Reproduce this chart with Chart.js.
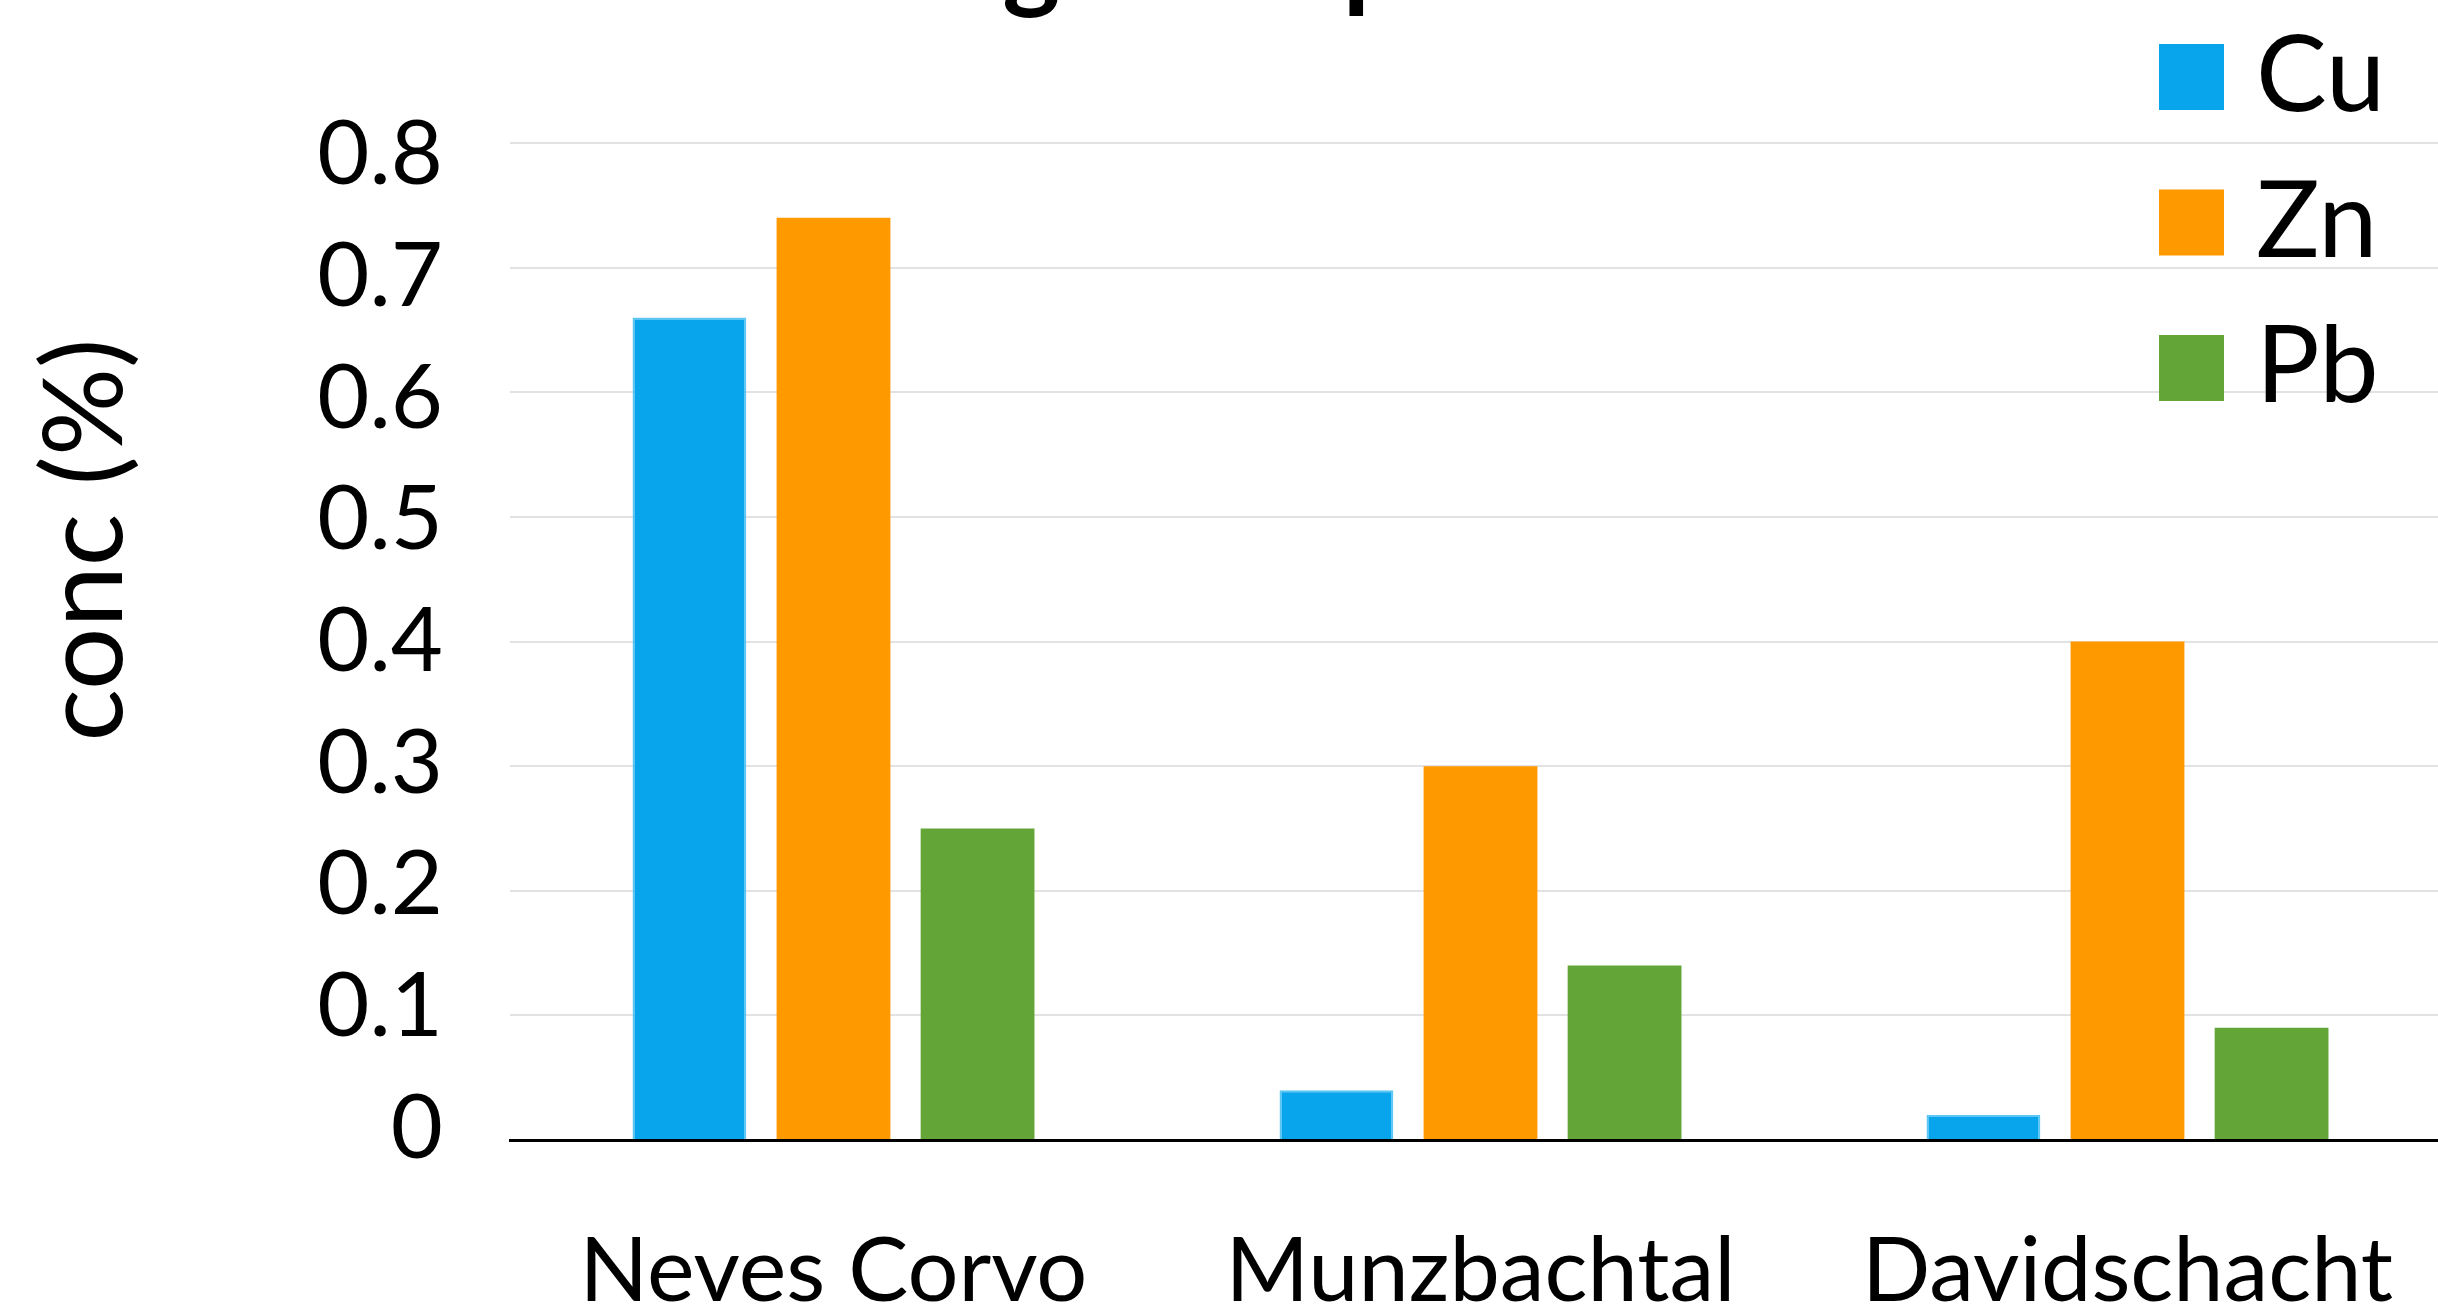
<!DOCTYPE html>
<html>
<head>
<meta charset="utf-8">
<title>Tailings composition</title>
<script src="https://cdn.jsdelivr.net/npm/chart.js@4.4.1/dist/chart.umd.min.js"></script>
<style>
  html, body { margin: 0; padding: 0; background: #fff; overflow: hidden; }
  #wrap { width: 2460px; height: 1312px; }
</style>
</head>
<body>
<div id="wrap"><canvas id="chart" width="2460" height="1312"></canvas></div>
<script>
// -----------------------------
// Data
// -----------------------------
const chartTitle = "Tailings composition";
const yAxisTitle = "conc (%)";
const sites = ["Neves Corvo", "Munzbachtal", "Davidschacht"];
const seriesNames = ["Cu", "Zn", "Pb"];
const cuValues = [0.66, 0.04, 0.02];
const znValues = [0.74, 0.30, 0.40];
const pbValues = [0.25, 0.14, 0.09];
const yTickValues = [0, 0.1, 0.2, 0.3, 0.4, 0.5, 0.6, 0.7, 0.8];
const yTickLabels = ["0", "0.1", "0.2", "0.3", "0.4", "0.5", "0.6", "0.7", "0.8"];

const colors = ["#09A5EC", "#FF9900", "#64A537"];
const FONT = "Lato, 'Open Sans', sans-serif";

// title, rotated y title and legend drawn by hand (they sit outside the normal layout)
const extrasPlugin = {
  id: "extras",
  afterDraw(chart) {
    const ctx = chart.ctx;
    ctx.save();
    ctx.fillStyle = "#000";

    // title: mostly above the top edge, only descenders show
    ctx.font = "bold 110px " + FONT;
    ctx.textAlign = "center";
    ctx.textBaseline = "alphabetic";
    ctx.fillText(chartTitle, 1244, -2);

    // y axis title
    ctx.save();
    ctx.translate(87, 540);
    ctx.rotate(-Math.PI / 2);
    ctx.font = "110px " + FONT;
    ctx.textAlign = "center";
    ctx.textBaseline = "middle";
    ctx.fillText(yAxisTitle, 0, 0);
    ctx.restore();

    // legend
    ctx.font = "106px " + FONT;
    ctx.textAlign = "left";
    ctx.textBaseline = "alphabetic";
    chart.data.datasets.forEach((ds, i) => {
      const top = 44 + i * 145.5;
      ctx.fillStyle = ds.backgroundColor;
      ctx.fillRect(2159, top, 65, 66);
      ctx.fillStyle = "#000";
      ctx.fillText(ds.label, 2256, top + 67);
    });
    ctx.restore();
  }
};

const ctx = document.getElementById("chart").getContext("2d");

new Chart(ctx, {
  type: "bar",
  data: {
    labels: sites,
    datasets: [
      { label: seriesNames[0], data: cuValues, backgroundColor: colors[0], borderColor: "#5CC6F4", borderWidth: 2 },
      { label: seriesNames[1], data: znValues, backgroundColor: colors[1] },
      { label: seriesNames[2], data: pbValues, backgroundColor: colors[2] }
    ]
  },
  options: {
    responsive: false,
    animation: false,
    categoryPercentage: 0.668,
    barPercentage: 0.79,
    layout: { padding: { top: 143, right: 9, bottom: 0, left: 0 } },
    plugins: {
      legend: { display: false },
      title: { display: false },
      tooltip: { enabled: false }
    },
    scales: {
      x: {
        grid: { display: false, drawTicks: false },
        border: { display: true, color: "#000", width: 3 },
        ticks: {
          color: "#000",
          font: { family: FONT, size: 90, lineHeight: 2.93 },
          padding: 0,
          maxRotation: 0
        },
        afterFit(scale) { scale.height = 172; }
      },
      // value axis: gridlines only
      y: {
        min: 0,
        max: 0.8,
        weight: 1,
        grid: {
          drawTicks: false,
          lineWidth: 2,
          color: (c) => (c.tick && c.tick.value === 0 ? "rgba(0,0,0,0)" : "#E2E2E2")
        },
        border: { display: false },
        ticks: { stepSize: 0.1, display: false },
        afterFit(scale) { scale.width = 0; }
      },
      // label axis: the tick labels sit slightly inside the gridlines in the original
      yLabels: {
        position: "left",
        min: -0.0092,
        max: 0.81,
        weight: 2,
        grid: { display: false, drawTicks: false },
        border: { display: false },
        afterBuildTicks(scale) {
          scale.ticks = yTickValues.map((v) => ({ value: v }));
        },
        ticks: {
          color: "#000",
          font: { family: FONT, size: 90 },
          padding: 67,
          callback: (value, index) => yTickLabels[index]
        },
        afterFit(scale) { scale.width = 510; }
      }
    }
  },
  plugins: [extrasPlugin]
});
</script>
</body>
</html>
